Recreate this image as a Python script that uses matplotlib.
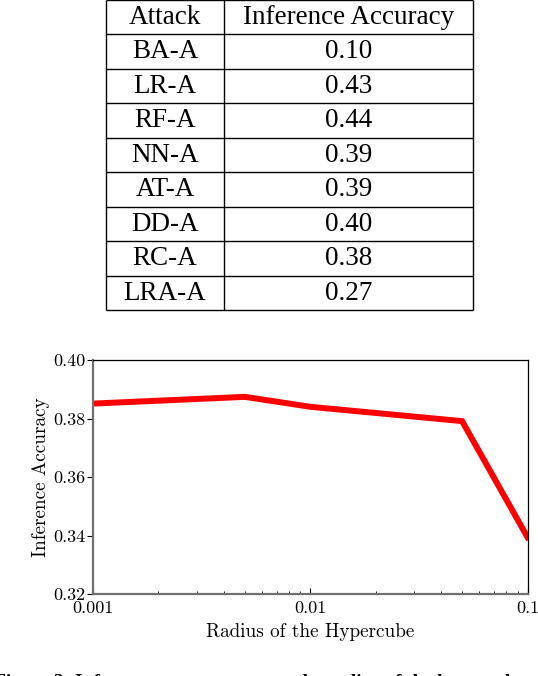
import numpy as np
import matplotlib.pyplot as plt
from matplotlib.ticker import FixedLocator, FixedFormatter, NullFormatter, LogLocator

plt.rcParams['font.family'] = 'serif'
plt.rcParams['font.serif'] = ['cmr10']
plt.rcParams['mathtext.fontset'] = 'cm'
plt.rcParams['axes.unicode_minus'] = False

# table data
attacks = ['BA-A', 'LR-A', 'RF-A', 'NN-A', 'AT-A', 'DD-A', 'RC-A', 'LRA-A']
accuracy = ['0.10', '0.43', '0.44', '0.39', '0.39', '0.40', '0.38', '0.27']
headers = ['Attack', 'Inference Accuracy']

# curve data
radius = [0.001, 0.005, 0.01, 0.05, 0.1]
inf_acc = [0.3851, 0.3874, 0.3840, 0.3791, 0.3394]
yticks = [0.32, 0.34, 0.36, 0.38, 0.40]
xticks = [0.001, 0.01, 0.1]
xticklabels = ['0.001', '0.01', '0.1']

W, H = 538, 676
fig = plt.figure(figsize=(W / 100, H / 100), dpi=100)

# --- table (pixel box: x 106..473, y -0.5..310)
tx0, tx1, ty0, ty1 = 106, 473, -0.5, 310
tab = fig.add_axes([tx0 / W, 1 - ty1 / H, (tx1 - tx0) / W, (ty1 - ty0) / H])
nrows = len(attacks) + 1
split = (224 - tx0) / (tx1 - tx0)
tab.set_xlim(0, 1)
tab.set_ylim(nrows, 0)
tab.axis('off')
tfont = dict(family='Liberation Serif', fontsize=19.5, ha='center', va='center')
rows = [headers] + [[a, v] for a, v in zip(attacks, accuracy)]
for i, (c1, c2) in enumerate(rows):
    tab.text(split / 2, i + 0.52, c1, **tfont)
    tab.text((1 + split) / 2, i + 0.52, c2, **tfont)
tab.hlines(np.arange(nrows + 1), 0, 1, color='black', lw=1.0, clip_on=False)
tab.vlines([0, split, 1], 0, nrows, color='black', lw=1.0, clip_on=False)

# --- line chart
ax = fig.add_axes([93 / W, (H - 594) / H, (527.5 - 93) / W, (594 - 360) / H])
ax.plot(radius, inf_acc, color='red', lw=4.3, solid_joinstyle='miter', clip_on=True)
ax.set_xscale('log')
ax.set_xlim(0.001, 0.1)
ax.set_ylim(0.32, 0.40)
ax.xaxis.set_major_locator(FixedLocator(xticks))
ax.xaxis.set_major_formatter(FixedFormatter(xticklabels))
ax.xaxis.set_minor_locator(LogLocator(base=10, subs=np.arange(2, 10)))
ax.xaxis.set_minor_formatter(NullFormatter())
ax.set_yticks(yticks)
ax.set_yticklabels([f'{v:.2f}' for v in yticks])
ax.tick_params(which='both', labelsize=13)
ax.tick_params(axis='x', which='major', direction='in', length=4, width=0.8, pad=5)
ax.tick_params(axis='x', which='minor', direction='in', length=2.5, width=0.6)
ax.tick_params(axis='y', direction='out', length=4, width=0.8, pad=1.5)
for side in ['left', 'bottom']:
    ax.spines[side].set_color('#707070')
    ax.spines[side].set_linewidth(1.6)
for side in ['top', 'right']:
    ax.spines[side].set_linewidth(0.9)
ax.set_xlabel('Radius of the Hypercube', fontsize=13.8, labelpad=5)
ax.set_ylabel('Inference Accuracy', fontsize=13.8, labelpad=2)

# cut-off caption at the bottom
fig.text(-0.012, -0.0165, 'Figure 3: Inference accuracy versus the radius of the hypercube.',
         family='Liberation Serif', fontweight='bold', fontsize=14, va='baseline', ha='left')

fig.savefig('out.png', dpi=100)
